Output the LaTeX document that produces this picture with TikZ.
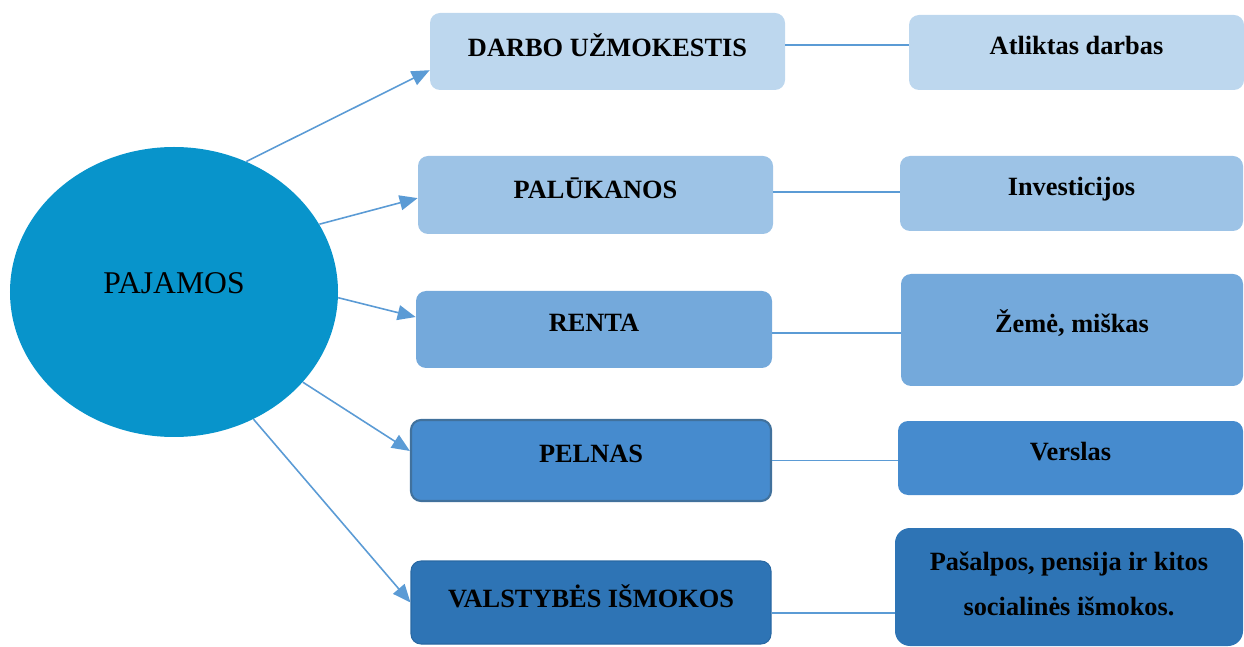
\documentclass[tikz,border=0pt]{standalone}
\usepackage{fontspec}
\setmainfont{Liberation Serif}
\usetikzlibrary{arrows.meta,shapes.geometric,calc}

\definecolor{pajblue}{HTML}{0894CB}
\definecolor{linkblue}{HTML}{5B9BD5}
\definecolor{tone1}{HTML}{BDD7EE}
\definecolor{tone2}{HTML}{9DC3E6}
\definecolor{tone3}{HTML}{74A9DB}
\definecolor{tone4}{HTML}{468BCE}
\definecolor{tone5}{HTML}{2E74B5}
\definecolor{edge4}{HTML}{41719C}

\begin{document}
\begin{tikzpicture}[
    box/.style={rectangle, rounded corners=0.2cm, inner sep=0pt, align=center,
      font=\bfseries\fontsize{15}{18}\selectfont, text depth=0.27cm},
    link/.style={draw=linkblue, line width=0.9pt},
    arrow/.style={link, -{Triangle[length=3.6mm,width=3mm]}, fill=linkblue}
  ]
        \useasboundingbox (0,0) rectangle (24.88,-12.94);
        % Centre
        \node[ellipse, fill=pajblue, minimum width=6.56cm, minimum height=5.8cm, inner sep=0pt,
          font=\fontsize{18}{21}\selectfont, text depth=0.35cm] (paj) at (3.48,-5.84) {PAJAMOS};
        % Income kinds
        \node[box, fill=tone1, minimum width=7.1cm, minimum height=1.54cm] (l1) at (12.15,-1.03) {DARBO UŽMOKESTIS};
        \node[box, fill=tone2, minimum width=7.1cm, minimum height=1.56cm] (l2) at (11.91,-3.9) {PALŪKANOS};
        \node[box, fill=tone3, minimum width=7.12cm, minimum height=1.54cm] (l3) at (11.88,-6.59) {RENTA};
        \node[box, fill=tone4, draw=edge4, line width=1.2pt, minimum width=7.2cm, minimum height=1.62cm] (l4) at (11.82,-9.21) {PELNAS};
        \node[box, fill=tone5, draw=tone5!90!black, line width=0.6pt, minimum width=7.2cm, minimum height=1.66cm] (l5) at (11.82,-12.05) {VALSTYBĖS IŠMOKOS};
        % Sources
        \node[box, fill=tone1, minimum width=6.7cm, minimum height=1.5cm] (r1) at (21.53,-1.05) {Atliktas darbas};
        \node[box, fill=tone2, minimum width=6.86cm, minimum height=1.5cm] (r2) at (21.43,-3.87) {Investicijos};
        \node[box, fill=tone3, minimum width=6.84cm, minimum height=2.24cm, text depth=0.35cm] (r3) at (21.44,-6.6) {Žemė, miškas};
        \node[box, fill=tone4, minimum width=6.9cm, minimum height=1.48cm] (r4) at (21.41,-9.16) {Verslas};
        \node[box, fill=tone5, rounded corners=0.3cm, minimum width=6.96cm, minimum height=2.36cm,
          font=\bfseries\fontsize{15}{25.6}\selectfont, text depth=0.15cm] (r5) at (21.38,-11.74)
          {Pašalpos, pensija ir kitos\\socialinės išmokos.};
        % Arrows
        \foreach \i/\a/\b in {1/61/186.6, 2/25.6/181.6, 3/-2/176.9, 4/-35/177.3, 5/-58.6/180}
            \draw[arrow] (paj.\a) -- (l\i.\b);
        % Links
        \foreach \i/\dy in {1/0.13, 2/0.06, 3/-0.07, 4/0, 5/-0.21} {
            \coordinate (s\i) at ($(l\i.east)+(0,\dy)$);
            \draw[link] (s\i) -- (s\i -| r\i.west);
        }
    \end{tikzpicture}
\end{document}
